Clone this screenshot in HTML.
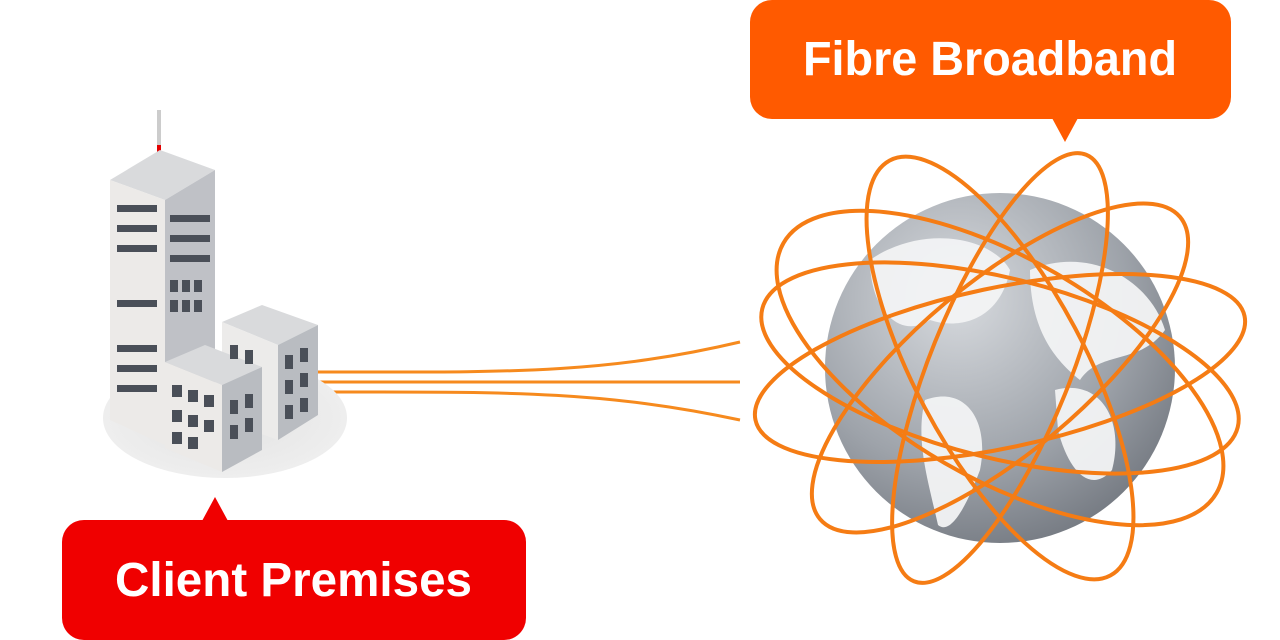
<!DOCTYPE html>
<html><head><meta charset="utf-8"><style>
html,body{margin:0;padding:0;background:#fff;}
svg{display:block}
text{font-family:"Liberation Sans",sans-serif;font-weight:bold;fill:#fff}
</style></head><body>
<svg width="1280" height="640" viewBox="0 0 1280 640" xmlns="http://www.w3.org/2000/svg">
<defs>
<radialGradient id="g" cx="0.38" cy="0.3" r="0.8">
<stop offset="0" stop-color="#d8dbdf"/><stop offset="0.6" stop-color="#9ea3aa"/><stop offset="1" stop-color="#6d727a"/>
</radialGradient>
<radialGradient id="sh" cx="0.5" cy="0.5" r="0.5">
<stop offset="0" stop-color="#e2e2e2"/><stop offset="1" stop-color="#eeeeee"/>
</radialGradient>
</defs>
<g fill="none" stroke="#f68a1e" stroke-width="3">
<path d="M318 372 C500 372 600 375 740 342"/>
<path d="M318 382 C500 382 620 382 740 382"/>
<path d="M318 392 C500 392 600 390 740 420"/>
</g>
<circle cx="1000" cy="368" r="175" fill="url(#g)"/>
<g fill="#f2f3f4" opacity="0.95">
<path d="M870 260 C920 225 990 235 1010 270 C1000 320 960 330 930 320 C900 340 870 310 870 260Z"/>
<path d="M925 400 C965 385 990 420 980 470 C965 510 950 535 938 525 C928 480 915 440 925 400Z"/>
<path d="M1030 270 C1090 245 1150 280 1165 330 C1140 365 1100 350 1080 380 C1055 360 1030 330 1030 270Z"/>
<path d="M1055 390 C1100 378 1125 420 1112 470 C1090 495 1068 470 1058 430Z"/>
</g>
<g fill="none" stroke="#f57c14" stroke-width="4">
<ellipse cx="1000" cy="368" rx="250" ry="80" transform="rotate(-12 1000 368)"/>
<ellipse cx="1000" cy="368" rx="245" ry="90" transform="rotate(14 1000 368)"/>
<ellipse cx="1000" cy="368" rx="235" ry="85" transform="rotate(-40 1000 368)"/>
<ellipse cx="1000" cy="368" rx="235" ry="85" transform="rotate(62 1000 368)"/>
<ellipse cx="1000" cy="368" rx="230" ry="70" transform="rotate(-68 1000 368)"/>
<ellipse cx="1000" cy="368" rx="250" ry="110" transform="rotate(30 1000 368)"/>
</g>
<rect x="750" y="0" width="481" height="119" rx="22" fill="#ff5a00"/>
<polygon points="1052,118 1078,118 1065,142" fill="#ff5a00"/>
<text x="803" y="75" font-size="48" textLength="374" lengthAdjust="spacingAndGlyphs">Fibre Broadband</text>
<ellipse cx="225" cy="418" rx="122" ry="60" fill="url(#sh)"/>
<rect x="157" y="110" width="4" height="55" fill="#ccc"/>
<rect x="157" y="145" width="4" height="20" fill="#e30000"/>
<polygon points="110,180 160,150 215,170 165,200" fill="#d9dadc"/>
<polygon points="110,180 165,200 165,445 110,420" fill="#eceae8"/>
<polygon points="165,200 215,170 215,420 165,445" fill="#bfc1c6"/>
<g fill="#4a4f58">
<rect x="117" y="205" width="40" height="7"/><rect x="117" y="225" width="40" height="7"/><rect x="117" y="245" width="40" height="7"/>
<rect x="117" y="300" width="40" height="7"/><rect x="117" y="345" width="40" height="7"/><rect x="117" y="365" width="40" height="7"/>
<rect x="117" y="385" width="40" height="7"/>
<rect x="170" y="215" width="40" height="7"/><rect x="170" y="235" width="40" height="7"/><rect x="170" y="255" width="40" height="7"/>
<rect x="170" y="280" width="8" height="12"/><rect x="182" y="280" width="8" height="12"/><rect x="194" y="280" width="8" height="12"/>
<rect x="170" y="300" width="8" height="12"/><rect x="182" y="300" width="8" height="12"/><rect x="194" y="300" width="8" height="12"/>
</g>
<polygon points="222,322 262,305 318,325 278,345" fill="#d9dadc"/>
<polygon points="222,322 278,345 278,440 222,420" fill="#ecebea"/>
<polygon points="278,345 318,325 318,415 278,440" fill="#b9bcc1"/>
<polygon points="165,362 205,345 262,367 222,385" fill="#d9dadc"/>
<polygon points="165,362 222,385 222,472 165,448" fill="#eceae8"/>
<polygon points="222,385 262,367 262,450 222,472" fill="#b9bcc1"/>
<g fill="#4a4f58">
<rect x="172" y="385" width="10" height="12"/><rect x="188" y="390" width="10" height="12"/><rect x="204" y="395" width="10" height="12"/>
<rect x="172" y="410" width="10" height="12"/><rect x="188" y="415" width="10" height="12"/><rect x="204" y="420" width="10" height="12"/>
<rect x="172" y="432" width="10" height="12"/><rect x="188" y="437" width="10" height="12"/>
<rect x="230" y="400" width="8" height="14"/><rect x="245" y="394" width="8" height="14"/>
<rect x="230" y="425" width="8" height="14"/><rect x="245" y="418" width="8" height="14"/>
<rect x="285" y="355" width="8" height="14"/><rect x="300" y="348" width="8" height="14"/>
<rect x="285" y="380" width="8" height="14"/><rect x="300" y="373" width="8" height="14"/>
<rect x="285" y="405" width="8" height="14"/><rect x="300" y="398" width="8" height="14"/>
<rect x="230" y="345" width="8" height="14"/><rect x="245" y="350" width="8" height="14"/>
</g>
<rect x="62" y="520" width="464" height="120" rx="22" fill="#f00000"/>
<polygon points="202,521 228,521 215,497" fill="#f00000"/>
<text x="115" y="596" font-size="48" textLength="357" lengthAdjust="spacingAndGlyphs">Client Premises</text>
</svg>
</body></html>
